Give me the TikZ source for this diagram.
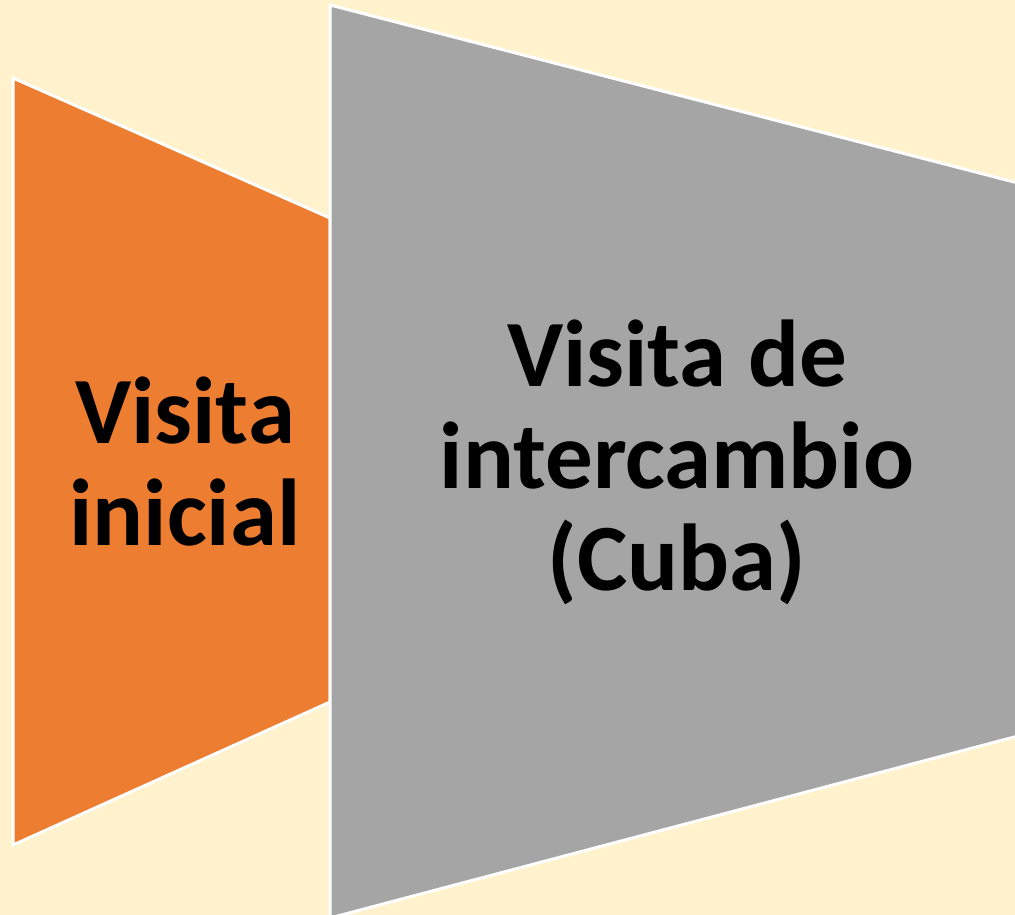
\documentclass[tikz,border=0pt]{standalone}
\usepackage{fontspec}
\setmainfont{Carlito}
\definecolor{bg}{HTML}{FFF2CC}
\definecolor{orng}{HTML}{ED7D31}
\definecolor{gry}{HTML}{A5A5A5}
\tikzset{
  shapeline/.style={draw=white, line width=3pt, line join=miter},
  lbl/.style={font=\fontsize{95}{102}\selectfont\bfseries, align=center, text=black, inner sep=0pt}
}
\begin{document}
\begin{tikzpicture}[x=1pt,y=-1pt]
\useasboundingbox (0,0) rectangle (1015,915);
\fill[bg] (0,0) rectangle (1015,915);
\filldraw[shapeline, fill=orng] (13,78) -- (330,218) -- (330,702) -- (13,845) -- cycle;
\filldraw[shapeline, fill=gry] (330,5) -- (1018,183) -- (1018,736) -- (330,918) -- cycle;
\node[lbl] (a) at (185,462) {Visita\\inicial};
\node[lbl] (b) at (677,462) {Visita de\\intercambio\\(Cuba)};
\end{tikzpicture}
\end{document}
